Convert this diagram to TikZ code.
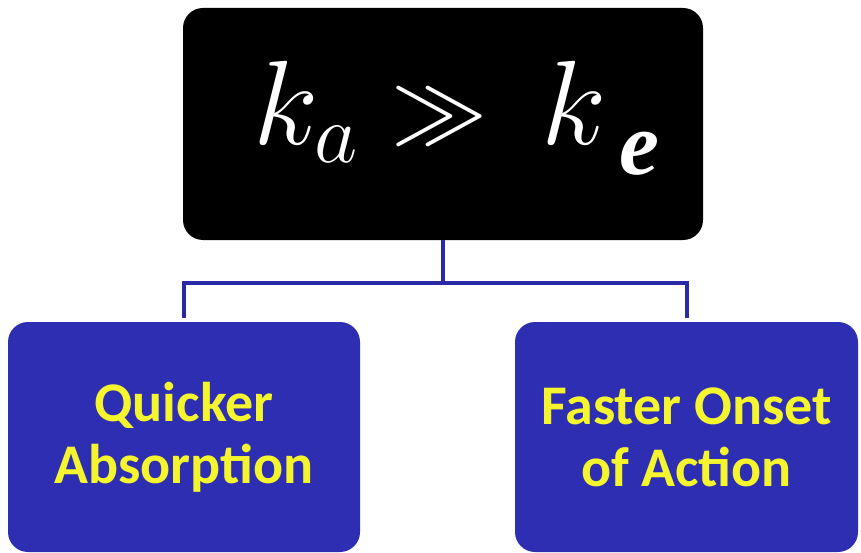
\RequirePackage{fix-cm}
\documentclass[tikz,border=0pt]{standalone}
\usepackage{fontspec}
\setsansfont{Carlito}
\newfontfamily\serifb{Liberation Serif}
\definecolor{boxblue}{RGB}{46,46,178}
\definecolor{lineblue}{RGB}{42,42,168}
\definecolor{txtyellow}{RGB}{245,245,45}
\tikzset{
  topbox/.style={fill=black, rounded corners=20pt, minimum width=520pt, minimum height=232pt, inner sep=0pt},
  bluebox/.style={fill=boxblue, rounded corners=20pt, minimum height=230pt, inner sep=0pt,
    text=txtyellow, align=center, font=\sffamily\bfseries\fontsize{56}{62}\selectfont},
  eqtext/.style={text=white, inner sep=0pt},
  conn/.style={draw=lineblue, line width=4pt}
}
\begin{document}
\begin{tikzpicture}[x=1pt,y=-1pt]
\useasboundingbox[fill=white] (0,0) rectangle (861,553);
\node[topbox] (top) at (443,124) {};
\node[eqtext, anchor=base west] (eq) at (253,145)
  {\fontsize{120}{120}\selectfont$k_a\kern 34pt\raisebox{4pt}{\scalebox{0.8}{$\gg$}}\kern 54pt k$\kern 12pt\raisebox{-30pt}{\fontsize{90}{90}\serifb\bfseries\itshape e}};
\node[bluebox, minimum width=352pt] (left) at (184,437) {Quicker\\Absorption};
\node[bluebox, minimum width=343pt] (right) at (686.5,437) {Faster Onset\\of Action};
\coordinate (bar) at (443,283);
\draw[conn] (top.south) -- (bar);
\draw[conn, shorten >=4pt] (bar) -| (left.north);
\draw[conn, shorten >=4pt] (bar) -| (right.north);
\end{tikzpicture}
\end{document}
